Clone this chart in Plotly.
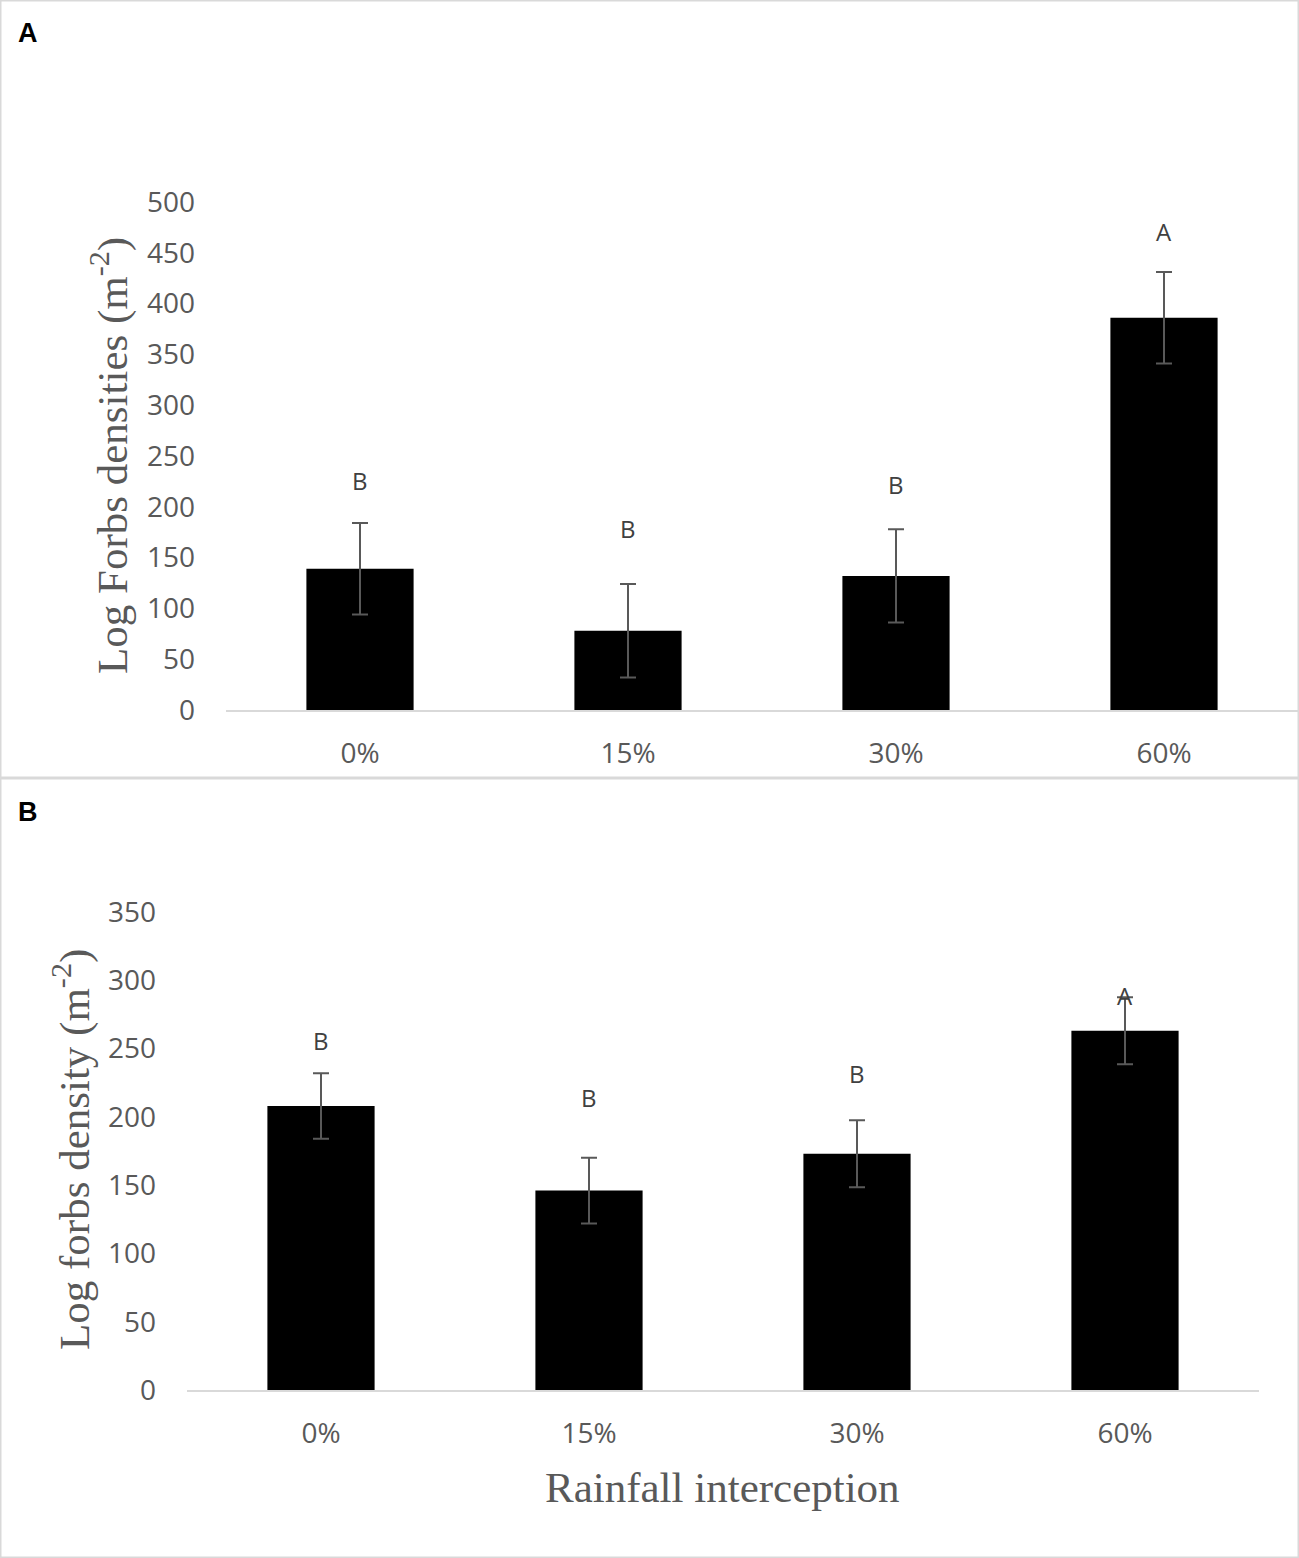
"""
Forbs densities under rainfall interception, panels A and B
"""
import plotly.graph_objects as go

W, H = 1299, 1558

categories = ["0%", "15%", "30%", "60%"]

# panel A
a_means = [139, 78, 132, 386]
a_err = [45, 46, 46, 45]
a_letters = ["B", "B", "B", "A"]
a_letter_y = [226, 179, 222, 471]
a_ticks = [0, 50, 100, 150, 200, 250, 300, 350, 400, 450, 500]

# panel B
b_means = [208, 146, 173, 263]
b_err = [24, 24, 24.5, 24.5]
b_letters = ["B", "B", "B", "A"]
b_letter_y = [256, 214, 232, 289]
b_ticks = [0, 50, 100, 150, 200, 250, 300, 350]

TICK_FONT = dict(family="Open Sans, sans-serif", size=28, color="#595959")
TITLE_FONT = dict(family="Liberation Serif, Times New Roman, serif", size=43, color="#595959")
ERR_COLOR = "#595959"


def px_x(p):
    return p / W


def px_y(p):
    return 1 - p / H


fig = go.Figure()

for means, errs, xa, ya in [(a_means, a_err, "x", "y"), (b_means, b_err, "x2", "y2")]:
    fig.add_trace(go.Bar(
        x=categories, y=means, width=0.4,
        marker=dict(color="black", line=dict(width=0)),
        error_y=dict(type="data", array=errs, visible=True, color=ERR_COLOR, thickness=2, width=8),
        xaxis=xa, yaxis=ya, showlegend=False,
    ))

annotations = []
for letters, ys, xr, yr in [(a_letters, a_letter_y, "x", "y"), (b_letters, b_letter_y, "x2", "y2")]:
    for cat, lt, yv in zip(categories, letters, ys):
        annotations.append(dict(
            x=cat, y=yv, xref=xr, yref=yr, text=lt, showarrow=False,
            xanchor="center", yanchor="middle",
            font=dict(family="Open Sans, sans-serif", size=24, color="#404040"),
        ))


def paper_note(x, y, text, font, angle=0):
    return dict(x=px_x(x), y=px_y(y), xref="paper", yref="paper", text=text,
                showarrow=False, xanchor="center", yanchor="middle",
                textangle=angle, font=font)


tag_font = dict(family="Liberation Sans, Arial", size=27, color="black")
annotations.append(paper_note(28, 33, "<b>A</b>", tag_font))
annotations.append(paper_note(28, 812, "<b>B</b>", tag_font))

# axis titles
annotations.append(paper_note(109, 456, "Log Forbs densities (m<sup>-2</sup>)", TITLE_FONT, -90))
annotations.append(paper_note(71, 1150, "Log forbs density (m<sup>-2</sup>)", TITLE_FONT, -90))
annotations.append(paper_note(722, 1487, "Rainfall interception", TITLE_FONT))

shapes = [
    dict(type="rect", xref="paper", yref="paper", x0=0, y0=0, x1=1, y1=1,
         line=dict(color="#d9d9d9", width=3)),
    dict(type="line", xref="paper", yref="paper", x0=0, x1=1, y0=px_y(778), y1=px_y(778),
         line=dict(color="#d9d9d9", width=3)),
]

axis_x_common = dict(type="category", range=[-0.5, 3.5], showgrid=False, showline=True,
                     linecolor="#d9d9d9", linewidth=2, ticks="", tickfont=TICK_FONT,
                     ticklabelstandoff=17, zeroline=False, automargin=False)
axis_y_common = dict(showgrid=False, showline=False, ticks="", tickfont=TICK_FONT,
                     ticklabelstandoff=30, zeroline=False, automargin=False)

fig.update_layout(
    width=W, height=H,
    margin=dict(l=0, r=0, t=0, b=0, pad=0, autoexpand=False),
    paper_bgcolor="white", plot_bgcolor="white",
    showlegend=False,
    xaxis=dict(domain=[px_x(226), px_x(1298)], anchor="y", **axis_x_common),
    yaxis=dict(domain=[px_y(710), px_y(202)], anchor="x", range=[0, 500],
               tickvals=a_ticks, **axis_y_common),
    xaxis2=dict(domain=[px_x(187), px_x(1259)], anchor="y2", **axis_x_common),
    yaxis2=dict(domain=[px_y(1390), px_y(912)], anchor="x2", range=[0, 350],
                tickvals=b_ticks, **axis_y_common),
    annotations=annotations,
    shapes=shapes,
)

fig.write_html("out.html", config={"displayModeBar": False},
               post_script="document.body.style.margin='0';")
